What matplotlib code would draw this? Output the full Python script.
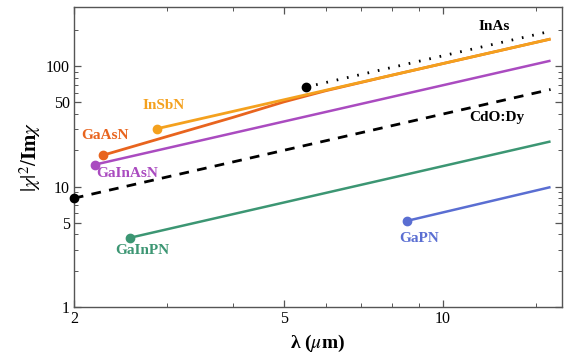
import numpy as np
import matplotlib.pyplot as plt
from matplotlib.ticker import FixedLocator, NullFormatter, FixedFormatter

plt.switch_backend('Agg')
plt.rcParams['font.family'] = ['Liberation Serif', 'DejaVu Serif']
plt.rcParams['mathtext.fontset'] = 'stix'

# wavelength (um) / |chi|^2/Im chi
inas_x = [5.5, 16.0]
inas_y = [67, 195]
insbn_x = [2.88, 16.0]
insbn_y = [30.3, 168]
gaasn_x = [2.27, 3.0, 4.0, 5.0, 6.0, 8.0, 11.0, 16.0]
gaasn_y = [18.2, 26, 37.5, 50.5, 62.5, 84, 115.5, 168]
gainasn_x = [2.19, 16.0]
gainasn_y = [15.2, 111]
cdo_x = [2.0, 16.0]
cdo_y = [8.0, 64]
gainpn_x = [2.55, 16.0]
gainpn_y = [3.75, 23.7]
gapn_x = [8.57, 16.0]
gapn_y = [5.2, 9.9]

c_insbn = '#F4A11E'
c_gaasn = '#E8641E'
c_gainasn = '#AA4BC0'
c_gainpn = '#3C9673'
c_gapn = '#5A6ED2'

fig = plt.figure(figsize=(5.68, 3.58), dpi=100)
ax = fig.add_axes([0.130, 0.1425, 0.859, 0.838])

def curve(x, y, color, ls='-', lw=1.8):
    ax.plot(x, y, color=color, ls=ls, lw=lw, solid_capstyle='butt')
    ax.plot(x[0], y[0], 'o', color=color, ms=6, clip_on=False, zorder=5)

curve(cdo_x, cdo_y, 'black', ls=(0, (3.5, 3)), lw=2)
curve(inas_x, inas_y, 'black', ls=(0, (0.6, 3.2)), lw=2)
curve(gainpn_x, gainpn_y, c_gainpn)
curve(gapn_x, gapn_y, c_gapn)
curve(gainasn_x, gainasn_y, c_gainasn)
curve(gaasn_x, gaasn_y, c_gaasn, lw=2)
curve(insbn_x, insbn_y, c_insbn, lw=2)

ax.set_xscale('log')
ax.set_yscale('log')
ax.set_xlim(2, 16.8)
ax.set_ylim(1, 310)

ax.xaxis.set_major_locator(FixedLocator([2, 5, 10]))
ax.xaxis.set_major_formatter(FixedFormatter(['2', '5', '10']))
ax.xaxis.set_minor_locator(FixedLocator([3, 4, 6, 7, 8, 9, 15]))
ax.xaxis.set_minor_formatter(NullFormatter())
ax.yaxis.set_major_locator(FixedLocator([1, 5, 10, 50, 100]))
ax.yaxis.set_major_formatter(FixedFormatter(['1', '5', '10', '50', '100']))
ax.yaxis.set_minor_locator(FixedLocator([2, 3, 4, 6, 7, 8, 9, 20, 30, 40, 60, 70, 80, 90, 200]))
ax.yaxis.set_minor_formatter(NullFormatter())

ax.tick_params(which='both', direction='in', top=True, right=True,
               color='#555555', labelsize=11.5, pad=3)
ax.tick_params(which='major', length=5, width=0.9)
ax.tick_params(which='minor', length=3, width=0.7)
for s in ax.spines.values():
    s.set_color('#555555')
    s.set_linewidth(1.0)

ax.set_xlabel('λ ($\\mu$m)', fontsize=14, fontweight='bold', labelpad=4)
ax.set_ylabel('$|\\chi|^2/\\mathbf{Im}\\chi$', fontsize=15, labelpad=2)

kw = dict(fontsize=11, fontweight='bold', ha='center', va='center')
ax.text(12.5, 214, 'InAs', color='black', **kw)
ax.text(12.67, 37.5, 'CdO:Dy', color='black', **kw)
ax.text(2.96, 47, 'InSbN', color=c_insbn, **kw)
ax.text(2.29, 26.5, 'GaAsN', color=c_gaasn, **kw)
ax.text(2.52, 12.8, 'GaInAsN', color=c_gainasn, **kw)
ax.text(2.70, 2.95, 'GaInPN', color=c_gainpn, **kw)
ax.text(9.02, 3.7, 'GaPN', color=c_gapn, **kw)

fig.savefig('out.png', dpi=100)
